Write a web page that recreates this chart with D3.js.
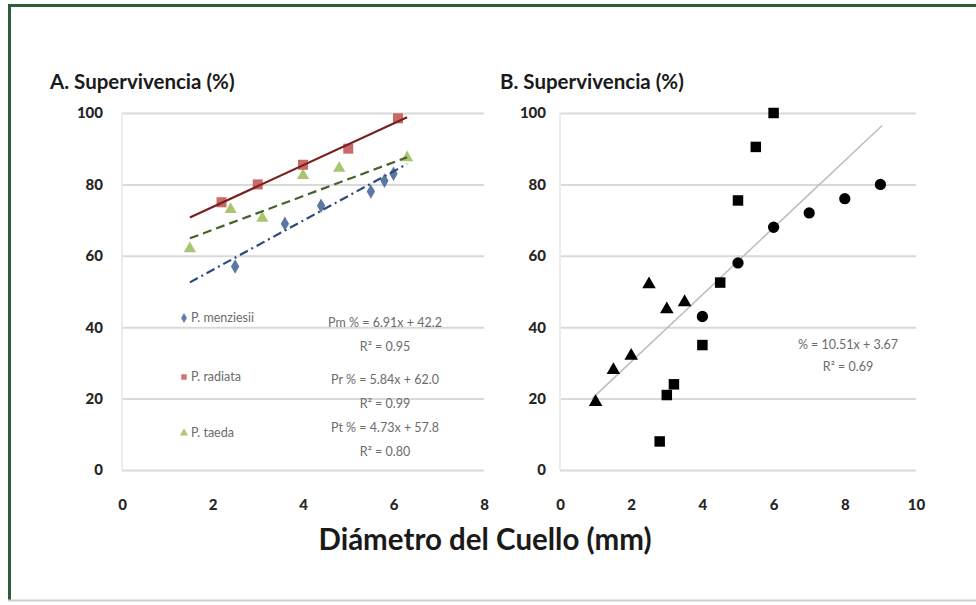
<!DOCTYPE html>
<html><head><meta charset="utf-8">
<script src="https://cdn.jsdelivr.net/npm/d3@7"></script>
<style>
html,body{margin:0;padding:0;background:#fff;}
svg{display:block;}
</style></head>
<body>
<script>
// ---------- data ----------
const yTicks = [0, 20, 40, 60, 80, 100];
const xTicksA = [0, 2, 4, 6, 8];
const xTicksB = [0, 2, 4, 6, 8, 10];

// Panel A
const menziesiiX = [2.5, 3.6, 4.4, 5.5, 5.8, 6.0];
const menziesiiY = [57, 69, 74, 78, 81, 83];
const radiataX = [2.2, 3.0, 4.0, 5.0, 6.1];
const radiataY = [75, 80, 85.5, 90, 98.5];
const taedaX = [1.5, 2.4, 3.1, 4.0, 4.8, 6.3];
const taedaY = [62, 73, 70.5, 82.5, 84.5, 87.5];
const seriesNames = ["P. menziesii", "P. radiata", "P. taeda"];
const fitSlopes = [6.91, 5.84, 4.73];
const fitIntercepts = [42.2, 62.0, 57.8];
const fitRange = [1.5, 6.3];
const fitLabels = ["Pm % = 6.91x + 42.2", "Pr % = 5.84x + 62.0", "Pt % = 4.73x + 57.8"];
const r2Labels = ["R² = 0.95", "R² = 0.99", "R² = 0.80"];

// Panel B
const squaresX = [6.0, 5.5, 5.0, 4.5, 4.0, 3.2, 3.0, 2.8];
const squaresY = [100, 90.5, 75.5, 52.5, 35, 24, 21, 8];
const circlesX = [9, 8, 7, 6, 5, 4];
const circlesY = [80, 76, 72, 68, 58, 43];
const trianglesX = [1.0, 1.5, 2.0, 2.5, 3.0, 3.5];
const trianglesY = [19, 28, 32, 52, 45, 47];
const trendBX = [0.9, 9.05];
const trendBY = [20, 96.5];
const trendBLabel = "% = 10.51x + 3.67";
const trendBR2 = "R² = 0.69";

const titleA = "A. Supervivencia (%)";
const titleB = "B. Supervivencia (%)";
const xTitle = "Diámetro del Cuello (mm)";

// ---------- drawing ----------
const W = 976, H = 605;
const svg = d3.select("body").append("svg").attr("width", W).attr("height", H);
const FONT = "Lato, 'Open Sans', sans-serif";

svg.append("rect").attr("width", W).attr("height", H).attr("fill", "#fff");
// frame
svg.append("line").attr("x1", 8).attr("x2", W).attr("y1", 5.5).attr("y2", 5.5)
  .attr("stroke", "#2f5d3a").attr("stroke-width", 3);
svg.append("line").attr("x1", 9.5).attr("x2", 9.5).attr("y1", 4).attr("y2", 601)
  .attr("stroke", "#2f5d3a").attr("stroke-width", 3);
svg.append("line").attr("x1", 8).attr("x2", W).attr("y1", 600.5).attr("y2", 600.5)
  .attr("stroke", "#cfcfcf").attr("stroke-width", 2);

function panel(xDomain, xRange, xTicks, yLabelX) {
  const x = d3.scaleLinear().domain(xDomain).range(xRange);
  const y = d3.scaleLinear().domain([0, 100]).range([470, 113]);
  const g = svg.append("g");
  // gridlines
  g.append("g")
    .call(d3.axisLeft(y).tickValues(yTicks).tickSize(-(xRange[1] - xRange[0])).tickFormat(""))
    .attr("transform", `translate(${xRange[0]},0)`)
    .call(a => a.select(".domain").remove())
    .call(a => a.selectAll("line").attr("stroke", "#d9d9d9").attr("stroke-width", 2));
  // faint vertical axis
  g.append("line").attr("x1", xRange[0]).attr("x2", xRange[0]).attr("y1", y(100)).attr("y2", y(0))
    .attr("stroke", "#ececec").attr("stroke-width", 2);
  // y labels
  g.append("g").attr("transform", `translate(${yLabelX},0)`)
    .call(d3.axisLeft(y).tickValues(yTicks).tickSize(0).tickPadding(0))
    .call(a => a.select(".domain").remove())
    .call(a => a.selectAll("text").attr("font-family", FONT).attr("font-weight", "900")
      .attr("font-size", 15).attr("fill", "#262626"));
  // x labels
  g.append("g").attr("transform", `translate(0,505)`)
    .call(d3.axisBottom(x).tickValues(xTicks).tickSize(0).tickPadding(0))
    .call(a => a.select(".domain").remove())
    .call(a => a.selectAll("text").attr("font-family", FONT).attr("font-weight", "900")
      .attr("font-size", 15).attr("fill", "#262626").attr("dy", "0.35em"));
  return {x, y, g};
}

// Panel A
const A = panel([0, 8], [122, 484], xTicksA, 103);
const colorsA = ["#3f5f93", "#c0504d", "#9bbb59"];
const lineColorsA = ["#2b4a7c", "#7a1f1f", "#46622a"];
const dashA = ["9,4,2,4", null, "9,5"];
const symA = [d3.symbolDiamond, d3.symbolSquare, d3.symbolTriangle];
const sizeA = [60, 100, 65];
const dataA = [
  menziesiiX.map((v, i) => [v, menziesiiY[i]]),
  radiataX.map((v, i) => [v, radiataY[i]]),
  taedaX.map((v, i) => [v, taedaY[i]])
];
[2, 0, 1].forEach(k => {
  A.g.append("g").selectAll("path").data(dataA[k]).join("path")
    .attr("transform", d => `translate(${A.x(d[0])},${A.y(d[1])})`)
    .attr("d", d3.symbol(symA[k], sizeA[k]))
    .attr("fill", colorsA[k]).attr("opacity", 0.85);
});
[2, 0, 1].forEach(k => {
  const pts = fitRange.map(v => [v, fitSlopes[k] * v + fitIntercepts[k]]);
  const l = A.g.append("path").datum(pts)
    .attr("d", d3.line().x(d => A.x(d[0])).y(d => A.y(d[1])))
    .attr("fill", "none").attr("stroke", lineColorsA[k]).attr("stroke-width", 2.2);
  if (dashA[k]) l.attr("stroke-dasharray", dashA[k]);
});
// legend
const legY = [318, 377, 433];
seriesNames.forEach((n, k) => {
  A.g.append("path").attr("transform", `translate(184,${legY[k]})`)
    .attr("d", d3.symbol(symA[k], 30)).attr("fill", colorsA[k]).attr("opacity", 0.8);
  A.g.append("text").attr("x", 191).attr("y", legY[k]).attr("dy", "0.35em")
    .attr("font-family", FONT).attr("font-size", 12.5)
    .attr("fill", "#6b6b6b").text(n);
});
const eqY = [323, 380, 428];
fitLabels.forEach((t, k) => {
  A.g.append("text").attr("x", 385).attr("y", eqY[k]).attr("dy", "0.35em")
    .attr("text-anchor", "middle").attr("font-family", FONT).attr("font-size", 12.5)
    .attr("fill", "#6b6b6b").text(t);
  A.g.append("text").attr("x", 385).attr("y", eqY[k] + 24).attr("dy", "0.35em")
    .attr("text-anchor", "middle").attr("font-family", FONT).attr("font-size", 12.5)
    .attr("fill", "#6b6b6b").text(r2Labels[k]);
});

// Panel B
const B = panel([0, 10], [560, 916], xTicksB, 546);
B.g.append("path").datum(trendBX.map((v, i) => [v, trendBY[i]]))
  .attr("d", d3.line().x(d => B.x(d[0])).y(d => B.y(d[1])))
  .attr("fill", "none").attr("stroke", "#bdbdbd").attr("stroke-width", 1.5);
const symB = [
  [squaresX, squaresY, d3.symbolSquare, 110],
  [circlesX, circlesY, d3.symbolCircle, 100],
  [trianglesX, trianglesY, d3.symbolTriangle, 80]
];
symB.forEach(([xs, ys, s, sz]) => {
  B.g.append("g").selectAll("path").data(xs.map((v, i) => [v, ys[i]])).join("path")
    .attr("transform", d => `translate(${B.x(d[0])},${B.y(d[1])})`)
    .attr("d", d3.symbol(s, sz)).attr("fill", "#000");
});
B.g.append("text").attr("x", 848).attr("y", 345).attr("dy", "0.35em")
  .attr("text-anchor", "middle").attr("font-family", FONT).attr("font-size", 12.5)
  .attr("fill", "#6b6b6b").text(trendBLabel);
B.g.append("text").attr("x", 848).attr("y", 367).attr("dy", "0.35em")
  .attr("text-anchor", "middle").attr("font-family", FONT).attr("font-size", 12.5)
  .attr("fill", "#6b6b6b").text(trendBR2);

// titles
svg.append("text").attr("x", 50).attr("y", 89).attr("font-family", FONT).attr("font-weight", "bold")
  .attr("font-size", 20.5).attr("fill", "#1a1a1a").text(titleA);
svg.append("text").attr("x", 500).attr("y", 89).attr("font-family", FONT).attr("font-weight", "bold")
  .attr("font-size", 20.5).attr("fill", "#1a1a1a").text(titleB);
svg.append("text").attr("x", 485).attr("y", 550).attr("text-anchor", "middle")
  .attr("font-family", FONT).attr("font-weight", "bold").attr("font-size", 29.5)
  .attr("fill", "#1a1a1a").text(xTitle);
</script>
</body></html>
